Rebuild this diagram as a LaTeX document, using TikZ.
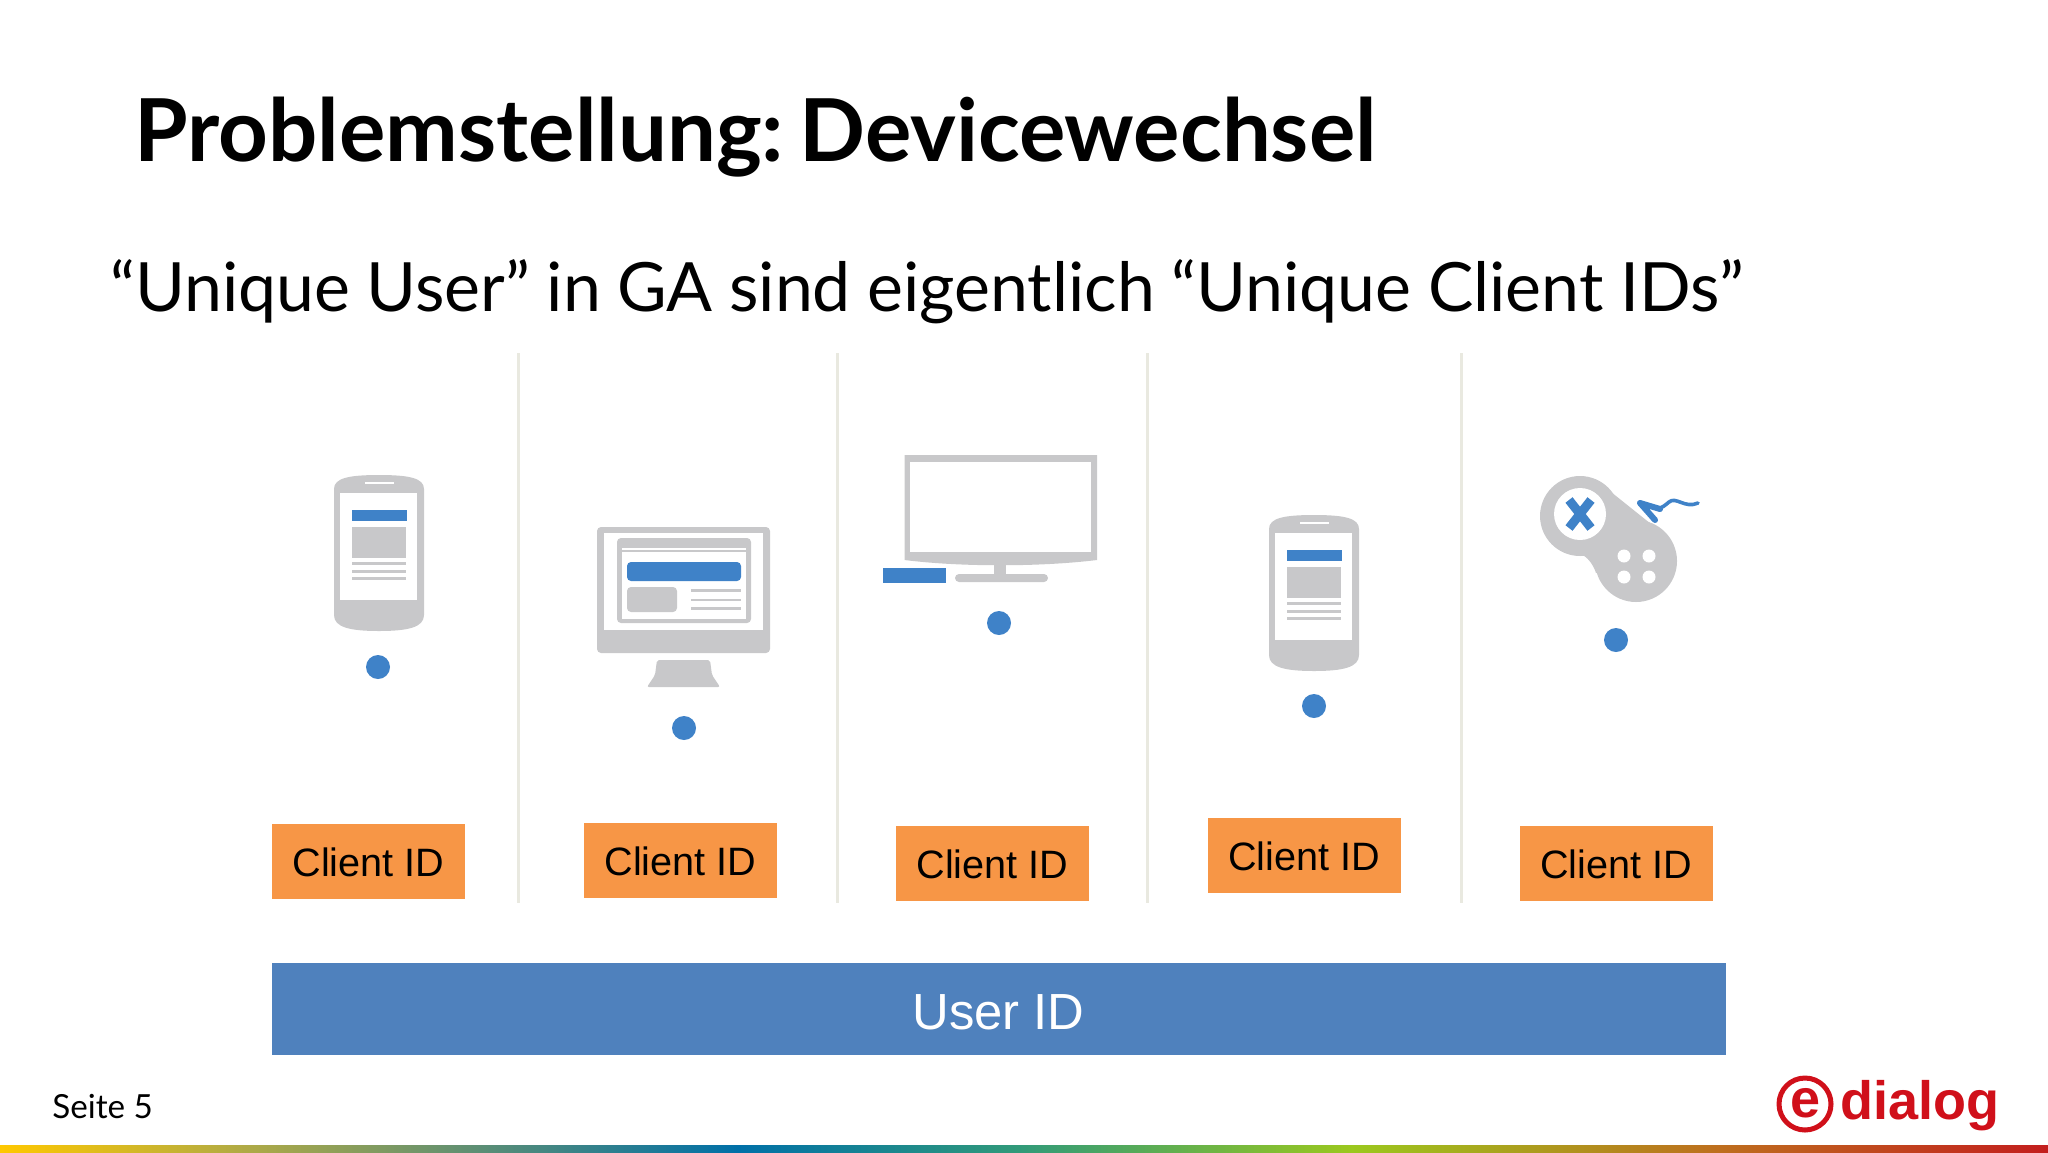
\documentclass[tikz,border=0pt]{standalone}
\usepackage{fontspec}
\setmainfont{Lato}
\newfontfamily\arialfont{Liberation Sans}
\newfontfamily\subfont[WordSpace=0.945]{Lato}
\usepackage{xcolor}
\usetikzlibrary{shapes,positioning}
\definecolor{iconblue}{HTML}{3F82C8}
\definecolor{icongray}{HTML}{C8C8CA}
\definecolor{linegray}{HTML}{E9E9E0}
\definecolor{boxorange}{HTML}{F79646}
\definecolor{barblue}{HTML}{4F81BD}
\definecolor{logored}{HTML}{D0101A}
\definecolor{stopyellow}{HTML}{FFC800}
\definecolor{stopolive}{HTML}{AFAA46}
\definecolor{stopblue}{HTML}{0070A8}
\definecolor{stopteal}{HTML}{329B78}
\definecolor{stopgreen}{HTML}{9BC81E}
\definecolor{stoporange}{HTML}{BE6E1E}
\definecolor{stopred}{HTML}{C31E1E}
\pgfdeclarehorizontalshading{rainbowbar}{100bp}{
  color(0bp)=(stopyellow);
  color(25bp)=(stopyellow);
  color(31bp)=(stopolive);
  color(43bp)=(stopblue);
  color(50bp)=(stopteal);
  color(58bp)=(stopgreen);
  color(67bp)=(stoporange);
  color(75bp)=(stopred);
  color(100bp)=(stopred)}
\tikzset{clientbox/.style={rectangle,fill=boxorange,minimum width=96.5pt,minimum height=37.5pt,inner sep=0pt,text height=15.5pt,text depth=0pt,font=\arialfont\fontsize{19.8}{22}\selectfont},
  userbar/.style={rectangle,fill=barblue,text=white,minimum width=727pt,minimum height=46pt,inner sep=0pt,text height=20.2pt,text depth=0pt,font=\arialfont\fontsize{25.4}{28}\selectfont},
  divider/.style={linegray,line width=1.5pt},
  dot/.style={circle,fill=iconblue,minimum size=12pt,inner sep=0pt}}
\newcommand{\phoneicon}[2]{
  \begin{scope}[shift={(#1,#2)}]
    \fill[icongray] (0,14) .. controls (0,3) and (15,0) .. (45,0) .. controls (75,0) and (90,3) .. (90,14) -- (90,140) .. controls (90,152) and (75,156) .. (45,156) .. controls (15,156) and (0,152) .. (0,140) -- cycle;
    \fill[white] (6,18) rectangle (83,125);
    \fill[white] (31,7) rectangle (60,9);
    \fill[iconblue] (18,35) rectangle (73,46);
    \fill[icongray] (18,52) rectangle (72,83);
    \fill[icongray] (18,87) rectangle (72,90);
    \fill[icongray] (18,95) rectangle (72,98);
    \fill[icongray] (18,102) rectangle (72,105);
  \end{scope}}
\begin{document}
\begin{tikzpicture}[x=0.5pt,y=-0.5pt]
    \useasboundingbox (0,0) rectangle (2048,1152);

    \node[anchor=base west,inner sep=0pt,font=\fontsize{43.4}{48}\selectfont\bfseries] (title)at (134,161) {Problemstellung:\hspace{-6.5pt} Devicewechsel};
    \node[anchor=base west,inner sep=0pt,font=\subfont\fontsize{34}{42}\selectfont] (sub)at (110,311) {“Unique User” in GA sind eigentlich “Unique Client IDs”};

    \draw[divider] (518.5,353) -- (518.5,903);
    \draw[divider] (837,353) -- (837,903);
    \draw[divider] (1147,353) -- (1147,903);
    \draw[divider] (1461,353) -- (1461,903);

    % phones
    \phoneicon{334}{475}
    \phoneicon{1269}{515}

    % desktop
    \fill[icongray,rounded corners=2pt] (597,527) rectangle (770,653);
    \fill[white] (604,533) rectangle (763,630);
    \fill[icongray,rounded corners=2pt] (617,538) rectangle (751,623);
    \fill[white] (622,552) rectangle (746,619);
    \fill[white] (622,548) rectangle (746,550);
    \fill[iconblue,rounded corners=2pt] (627,562) rectangle (741,581);
    \fill[icongray,rounded corners=2pt] (627,587) rectangle (677,612);
    \fill[icongray] (691,589) rectangle (741,591.5);
    \fill[icongray] (691,598.5) rectangle (741,601);
    \fill[icongray] (691,607) rectangle (741,609.5);
    \fill[icongray,rounded corners=1pt] (657,660) -- (710,660) -- (712,675) -- (720,687) -- (647,687) -- (655,675) -- cycle;

    % tv
    \fill[icongray] (904.5,455) -- (1097,455) -- (1097,560) .. controls (1040,567) and (960,567) .. (904.5,560) -- cycle;
    \fill[white] (910,462) rectangle (1091,552);
    \fill[icongray] (993.5,562) rectangle (1006,576);
    \fill[icongray,rounded corners=2pt] (955,574) rectangle (1048,582);
    \fill[iconblue] (883,568) rectangle (946,583);

    % gamepad
    \fill[icongray] (1580,516) circle [radius=40];
    \fill[icongray] (1636,561) circle [radius=41];
    \fill[icongray] (1596,480) -- (1671,540) -- (1636,561) -- (1596,573) .. controls (1590,555) and (1575,548) .. (1562,551) -- cycle;
    \fill[white] (1580,514) circle [radius=26];
    \draw[iconblue,line width=4.5pt] (1569,500) -- (1591,528);
    \draw[iconblue,line width=4.5pt] (1591,500) -- (1569,528);
    \foreach \px in {1624,1649}
      \foreach \py in {556,577}
        \fill[white] (\px,\py) circle [radius=6.5];
    \draw[iconblue,line width=3pt,line cap=round,line join=round] (1655,520) -- (1640,503) -- (1660,509);
    \draw[iconblue,line width=1.8pt,line cap=round] (1656,508) .. controls (1662,509) and (1665,505) .. (1669,502) .. controls (1676,496) and (1685,509) .. (1698,503);

    % dots
    \node[dot] (d1)at (378,667) {};
    \node[dot] (d2)at (684,728) {};
    \node[dot] (d3)at (999,623) {};
    \node[dot] (d4)at (1314,706) {};
    \node[dot] (d5)at (1616,640) {};

    \node[clientbox] (c1)at (368.5,861) {Client ID};
    \node[clientbox] (c2)at (680.5,860) {Client ID};
    \node[clientbox] (c3)at (992.5,863) {Client ID};
    \node[clientbox] (c4)at (1304,855) {Client ID};
    \node[clientbox] (c5)at (1616,863) {Client ID};

    \node[userbar] (user)at (998.5,1009) {User ID};

    \node[anchor=base west,inner sep=0pt,font=\fontsize{16.6}{22}\selectfont] (page)at (52,1118) {Seite 5};

    % logo
    \node[circle,draw=logored,line width=2.5pt,text=logored,minimum size=26pt,inner sep=0pt,font=\arialfont\fontsize{27}{27}\selectfont\bfseries] (ering)at (1805,1104) {\raisebox{1pt}{e}};
    \node[anchor=base west,inner sep=0pt,text=logored,font=\arialfont\fontsize{27}{30}\selectfont\bfseries] (brand)at (1840,1119) {dialog};

    \shade[shading=rainbowbar] (0,1145) rectangle (2048,1152);
\end{tikzpicture}
\end{document}
